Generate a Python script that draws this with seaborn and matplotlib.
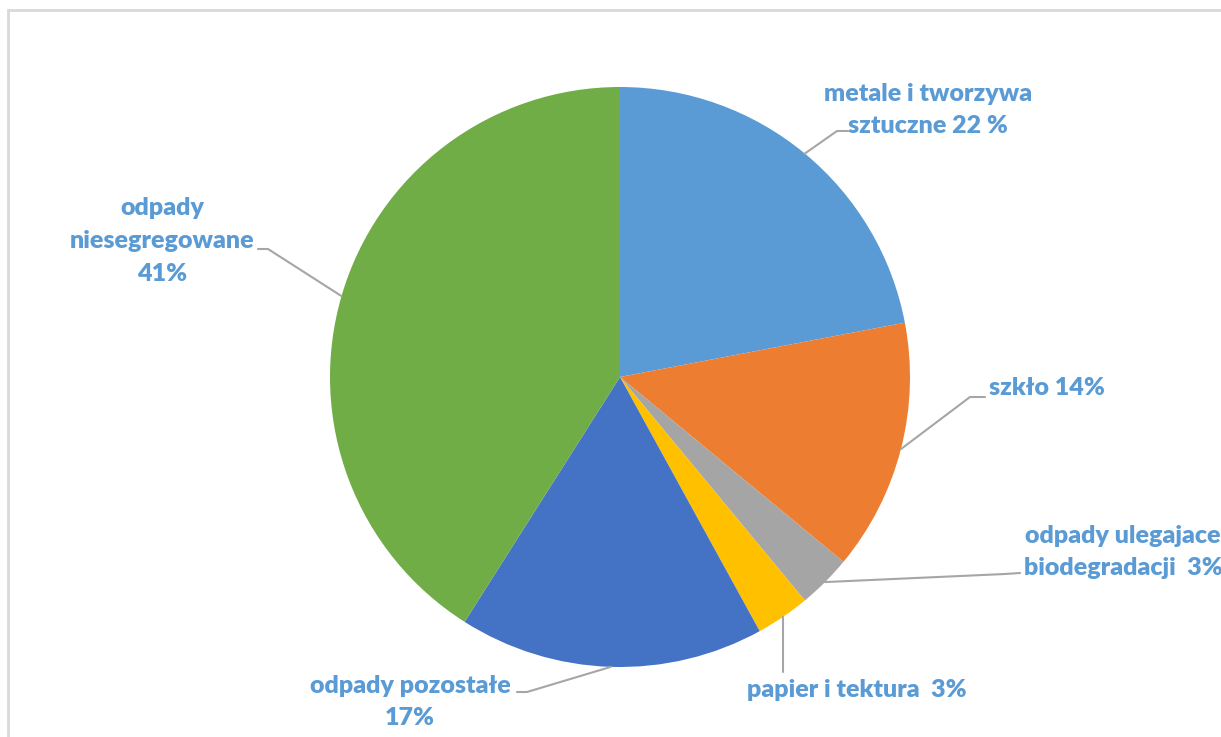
import numpy as np
import matplotlib.pyplot as plt
import seaborn as sns

# =========================
# DATA
# =========================

labels = [
    "metale i tworzywa\nsztuczne 22 %",
    "szkło 14%",
    "odpady ulegajace\nbiodegradacji  3%",
    "papier i tektura  3%",
    "odpady pozostałe\n17%",
    "odpady\nniesegregowane\n41%",
]
shares = [22, 14, 3, 3, 17, 41]
colors = ["#5B9BD5", "#ED7D31", "#A5A5A5", "#FFC000", "#4472C4", "#70AD47"]

# label layout (pixel positions in the 1221x737 frame): text centre, elbow, line end
text_pos = [(928, 110), (1047, 388), (1123, 552), (857, 690), (410, 702), (162, 241)]
elbow_pos = [(837, 131), (970, 397), (1005, 574), (783, 672), (527, 692), (268, 249)]
end_pos = [(848, 131), (985, 397), (1020, 573), (783, 672), (517, 692), (258, 249)]

# =========================
# PLOT
# =========================

sns.set_theme(style="white")
plt.rcParams["font.family"] = ["Lato", "DejaVu Sans"]

W, H = 1221, 737
cx, cy, r = 620, 377, 290

fig = plt.figure(figsize=(W / 100, H / 100), dpi=100)
fig.patch.set_facecolor("white")

# outer chart border
fig.add_artist(plt.Rectangle((8 / W, -0.05), 1.1, 1 - 10 / H + 0.05,
                             transform=fig.transFigure, fill=False,
                             edgecolor="#D9D9D9", linewidth=2))

ax = fig.add_axes([(cx - r) / W, (H - cy - r) / H, 2 * r / W, 2 * r / H])

wedges, _ = ax.pie(
    shares,
    colors=colors,
    startangle=90,
    counterclock=False,
    radius=1,
    wedgeprops=dict(linewidth=0),
)
ax.set_xlim(-1, 1)
ax.set_ylim(-1, 1)
ax.axis("off")


def to_data(p):
    return ((p[0] - cx) / r, (cy - p[1]) / r)


for w, lab, tp, ep, en in zip(wedges, labels, text_pos, elbow_pos, end_pos):
    mid = np.deg2rad((w.theta1 + w.theta2) / 2)
    start = (np.cos(mid), np.sin(mid))
    e = to_data(ep)
    n = to_data(en)
    ax.plot([start[0], e[0], n[0]], [start[1], e[1], n[1]],
            color="#A6A6A6", linewidth=1.5, clip_on=False)
    t = to_data(tp)
    ax.text(t[0], t[1], lab, ha="center", va="center", fontsize=18,
            fontweight="heavy", color="#5B9BD5", linespacing=1.6)

plt.savefig("out.png", dpi=100)
